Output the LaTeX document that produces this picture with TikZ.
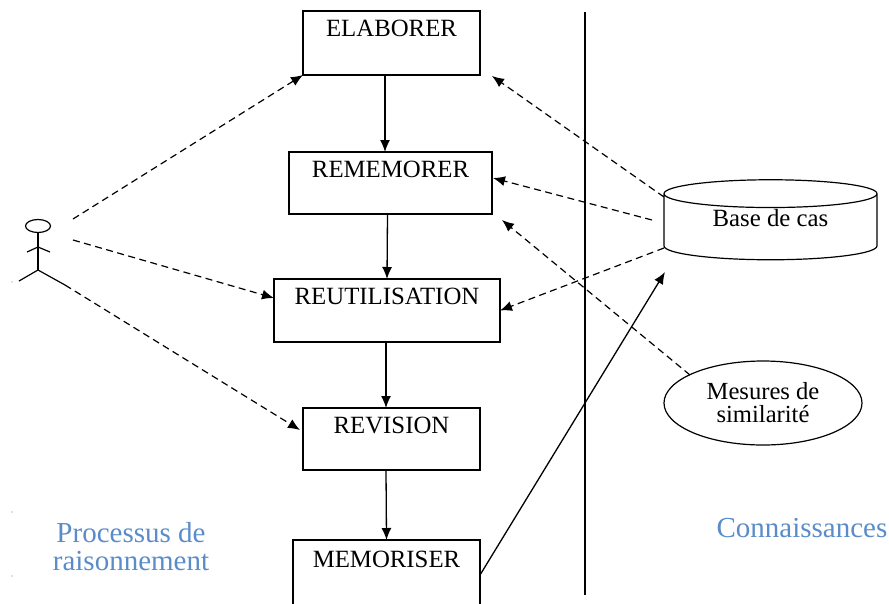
\documentclass[tikz,border=0pt]{standalone}
\usepackage{fontspec}
\setmainfont{Liberation Serif}
\usepackage{xcolor}
\usetikzlibrary{shapes,positioning,calc,arrows.meta}
\definecolor{titleblue}{HTML}{5B8CC9}
\tikzset{
    stepbox/.style 2 args={rectangle, draw, inner sep=0pt, outer sep=0pt, minimum width=#1, text height=25pt, text depth=#2},
    flow/.style={-{Latex[length=12pt,width=10pt]}, line width=1.3pt},
    link/.style={-{Latex[length=12pt,width=10pt]}, line width=1.2pt, dash pattern=on 7pt off 4.5pt},
    title/.style={text=titleblue, font=\fontsize{29}{28}\selectfont, align=center, inner sep=0pt}
}

\begin{document}
\begin{tikzpicture}[x=1pt, y=-1pt, line width=1.2pt, font=\fontsize{24.8}{24}\selectfont]
    \clip (0,0) rectangle (889,603);
    % boxes
    \node [stepbox={177pt}{39pt}] (elaborer) at (391.5,43) {ELABORER};
    \node [stepbox={203pt}{37pt}, below=77pt of elaborer, xshift=-1pt] (rememorer) {REMEMORER};
    \node [stepbox={226pt}{38pt}, below=65pt of rememorer, xshift=-3.5pt] (reutilisation) {REUTILISATION};
    \node [stepbox={177pt}{37pt}, below=66pt of reutilisation, xshift=4.5pt] (revision) {REVISION};
    \node [stepbox={187pt}{43pt}, text height=27pt, below=70pt of revision, xshift=-5pt] (memoriser) {MEMORISER};
    % base and measures
    \node [cylinder, draw, shape border rotate=90, aspect=0.24, inner sep=0pt, outer sep=0pt, minimum width=213pt, minimum height=80pt, text height=17pt, text depth=18pt] (base) at (770.5,227) {Base de cas};
    \node [ellipse, draw, inner sep=0pt, outer sep=0pt, minimum width=198pt, minimum height=84pt, align=center, font=\fontsize{24.6}{23}\selectfont] (mesures) at (763,403) {Mesures de\\similarité};
    % actor
    \node [ellipse, draw, inner sep=0pt, outer sep=0pt, minimum width=25pt, minimum height=13pt] (head) at (38,226) {};
    \coordinate (hip) at (38,270);
    \coordinate (handl) at (27,252);
    \coordinate (handr) at (50,252);
    \coordinate (neck) at (38,247);
    \coordinate (footl) at (19,281);
    \coordinate (footr) at (65,285);
    \draw (head.south) -- (hip);
    \draw (handl) -- (neck) -- (handr);
    \draw (footl) -- (hip) -- (footr);
    % separator
    \coordinate (septop) at (585,12);
    \coordinate (sepbot) at (585,595);
    \draw (septop) -- (sepbot);
    % process
    \draw [flow] ([xshift=-6.5pt]elaborer.south) -- ([xshift=-5.5pt]rememorer.north);
    \draw [flow] ([xshift=-3pt]rememorer.south) -- (reutilisation.north);
    \draw [flow] ([xshift=-1pt]reutilisation.south) -- ([xshift=-5.5pt]revision.north);
    \draw [flow] ([xshift=-5.5pt]revision.south) -- (memoriser.north);
    % actor links
    \coordinate (actorup) at (73,219);
    \coordinate (actormid) at (73,240);
    \coordinate (reutilin) at (274,298);
    \coordinate (revisin) at (300,430);
    \draw [link] (actorup) -- (elaborer.south west);
    \draw [link] (actormid) -- (reutilin);
    \draw [link] (footr) -- (revisin);
    % knowledge links
    \coordinate (baseup) at (664,197);
    \coordinate (basemid) at (652,220);
    \coordinate (baselow) at (664,248);
    \coordinate (elabin) at (492,76);
    \coordinate (rememin) at (493,178);
    \coordinate (simin) at (502,220);
    \coordinate (simout) at (690,375);
    \coordinate (memout) at (480,575);
    \coordinate (basein) at (665,272);
    \draw [link] (baseup) -- (elabin);
    \draw [link] (basemid) -- (rememin);
    \draw [link] (baselow) -- (reutilisation.east);
    \draw [link] (simout) -- (simin);
    \draw [flow] (memout) -- (basein);
    % titles
    \node [title] (processus) at (131,547) {Processus de\\raisonnement};
    \node [title] (connaissances) at (802,528) {Connaissances};
    % stray marks
    \foreach \y in {282,512,576}
        \fill [gray] (12,\y) circle (0.7pt);
\end{tikzpicture}
\end{document}
